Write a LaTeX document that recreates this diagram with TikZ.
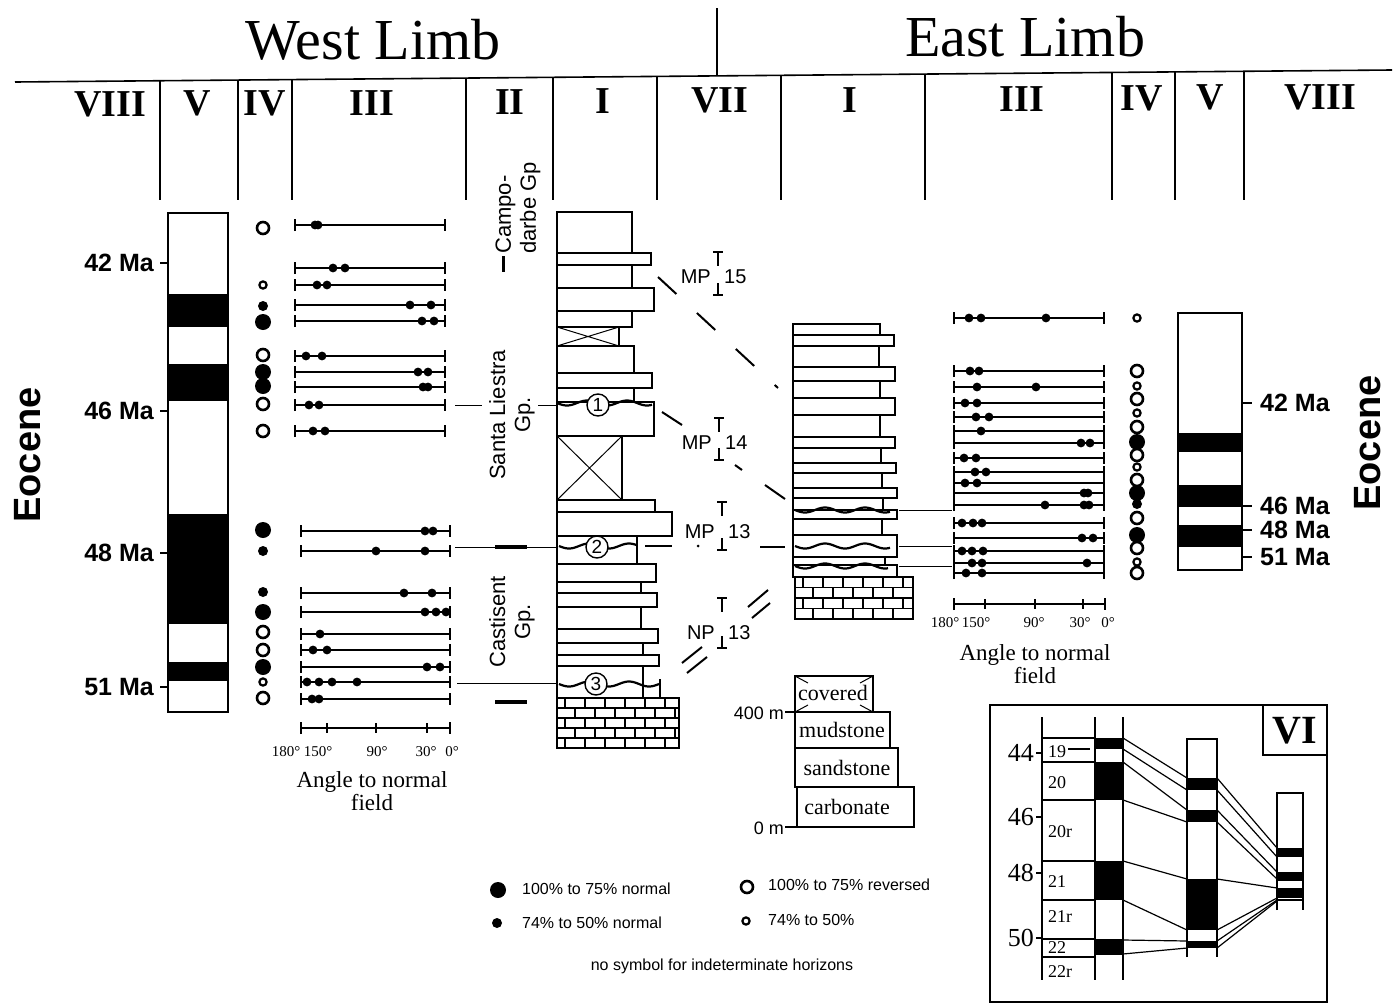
\documentclass[tikz,border=0pt]{standalone}
\usepackage{fontspec}
\setmainfont{Liberation Serif}
\setsansfont{Liberation Sans}
\usetikzlibrary{arrows.meta,positioning}

\tikzset{
  lith/.style={draw,line width=1.6pt,fill=white},
  frame/.style={line width=1.6pt},
  arow/.style={line width=1.6pt,{Bar[width=12pt,line width=1.6pt]}-{Bar[width=12pt,line width=1.6pt]}},
  colhead/.style={font=\bfseries\fontsize{38}{40}\selectfont,inner sep=0pt},
  limb/.style={font=\fontsize{58}{60}\selectfont,inner sep=0pt},
  agelab/.style={font=\sffamily\bfseries\fontsize{25}{28}\selectfont,inner sep=0pt},
  epoch/.style={font=\sffamily\bfseries\fontsize{38}{40}\selectfont,rotate=90,inner sep=0pt},
  grp/.style={font=\sffamily\fontsize{22}{25}\selectfont,rotate=90,inner sep=0pt},
  zone/.style={font=\sffamily\fontsize{20}{22}\selectfont,inner sep=0pt},
  deg/.style={font=\fontsize{15}{16}\selectfont,inner sep=0pt},
  axlab/.style={font=\fontsize{23}{23}\selectfont,align=center,inner sep=0pt},
  keytxt/.style={font=\sffamily\fontsize{16}{18}\selectfont,anchor=west,inner sep=0pt},
  rocklab/.style={font=\fontsize{22}{24}\selectfont,inner sep=1pt},
  hzn/.style={circle,draw,line width=1.4pt,fill=white,inner sep=0pt,minimum size=22pt,font=\sffamily\fontsize{19}{19}\selectfont},
  chron/.style={font=\fontsize{18}{18}\selectfont,anchor=west,inner sep=0pt},
  gpts/.style={font=\fontsize{26}{26}\selectfont,anchor=east,inner sep=0pt}
}

% polarity symbol: 0 big normal, 1 small normal, 2 big reversed, 3 small reversed
\newcommand{\polsym}[3]{%
  \ifcase#3\relax
    \fill (#1,#2) circle (8pt);
  \or \fill (#1,#2) circle (5pt);
  \or \draw[line width=2.6pt] (#1,#2) circle (6pt);
  \or \draw[line width=2.2pt] (#1,#2) circle (3.6pt);
  \fi}

% carbonate block
\newcommand{\brickwall}[5]{%
  \draw[lith] (#1,#2) rectangle (#3,#4);
  \begin{scope}
    \clip (#1,#2) rectangle (#3,#4);
    \pgfmathsetmacro{\bh}{(#4-#2)/#5}
    \foreach \r in {1,...,#5} {
      \draw[line width=1.2pt] (#1,{#2+\r*\bh}) -- (#3,{#2+\r*\bh});
    }
    \foreach \r in {0,...,#5} {
      \foreach \c in {0,...,6} {
        \draw[line width=1.2pt] ({#1+8+\c*20+mod(\r,2)*10},{#2+\r*\bh}) -- ++(0,\bh);
      }
    }
  \end{scope}
  \draw[frame] (#1,#2) rectangle (#3,#4);}

\begin{document}
\begin{tikzpicture}[x=1pt,y=-1pt]
\useasboundingbox (0,0) rectangle (1395,1004);

% headings
\node[limb] (wl) at (373,40) {West Limb};
\node[limb] (el) at (1025,37) {East Limb};
\draw[frame] (717,8) -- (717,76);
\draw[frame] (15,82) -- (1392,70);
\foreach \x/\lab [count=\i] in {110/VIII,197/V,265/IV,372/III,510/II,603/I,720/VII,850/I,1022/III,1142/IV,1210/V,1320/VIII}
  \node[colhead] (h\i) at (\x,{105-\x*0.006}) {\lab};
\foreach \x in {160,238,292,466,553,657,781,925,1112,1175,1244}
  \draw[line width=1.3pt] (\x,{82.1-\x*0.0087}) -- (\x,200);

\node[epoch] (eo1) at (28,455) {Eocene};
\node[epoch] (eo2) at (1368,443) {Eocene};

% west limb: V
\foreach \a/\b in {294/327,364/401,514/624,662/681}
  \fill (168,\a) rectangle (228,\b);
\draw[frame] (168,213) rectangle (228,712);
\foreach \y/\lab [count=\i] in {263/42,411/46,553/48,687/51} {
  \draw[frame] (160,\y) -- (168,\y);
  \node[agelab,anchor=east] (wa\i) at (154,\y) {\lab\ Ma};
}

% west limb: IV
\foreach \y/\t in {228/2,285/3,306/1,322/0,355/2,372/0,386/0,404/2,431/2,530/0,551/1,592/1,612/0,632/2,650/2,667/0,682/3,698/2}
  {\polsym{263}{\y}{\t}}

% west limb: III
\foreach \y/\ds in {225/{315,318},268/{333,345},285/{317,327},305/{410,431},321/{422,434},356/{306,322},372/{418,428},387/{423,428},405/{309,319},431/{313,325}} {
  \draw[arow] (294,\y) -- (446,\y);
  \foreach \d in \ds {\fill (\d,\y) circle (4.4pt);}
}
\foreach \y/\ds in {531/{425,433},551/{376,425},593/{404,432},612/{425,436,446},634/{320},650/{313,327},667/{427,440},682/{307,319,332,357},699/{312,319}} {
  \draw[arow] (300,\y) -- (451,\y);
  \foreach \d in \ds {\fill (\d,\y) circle (4.4pt);}
}
\draw[arow] (300,728) -- (451,728);
\foreach \x in {327,376,427} \draw[line width=1.4pt] (\x,723) -- (\x,733);
\foreach \x/\a [count=\i] in {286/180,318/150,377/90,426/30,452/0}
  \node[deg] (wd\i) at (\x,752) {\a°};
\node[axlab] (wax) at (372,791) {Angle to normal\\field};

% west limb: II
\draw[line width=3pt] (503,256) -- (503,272);
\node[grp,anchor=west,align=left] (cdg) at (518,254) {Campo-\\darbe Gp};
\node[grp,align=center] (slg) at (512,415) {Santa Liestra\\Gp.};
\node[grp,align=center] (csg) at (512,622) {Castisent\\Gp.};
\draw[line width=1pt] (455,405) -- (482,405) (538,405) -- (557,405);
\draw[line width=1pt] (455,547) -- (557,547) (457,683) -- (557,683);
\draw[line width=3.5pt] (495,547) -- (527,547) (495,702) -- (527,702);

% west limb: I
\foreach \t/\b/\r in {212/253/632,253/265/651,265/288/632,288/311/654,311/327/632,327/346/619,346/373/634,373/388/652,388/402/634,402/436/654,436/500/622,500/512/655,512/536/672,536/564/637,564/582/656,582/593/641,593/607/657,607/629/641,629/643/658,643/655/643,655/666/659,666/698/643}
  {\draw[lith] (557,\t) rectangle (\r,\b);}
\draw[line width=1pt] (557,327) -- (619,346) (557,346) -- (619,327);
\draw[line width=1pt] (557,436) -- (622,500) (557,500) -- (622,436);
\draw[frame] (660,679) -- (660,698);
\brickwall{557}{698}{679}{748}{5}
\draw[line width=2.2pt] plot[domain=557:652,samples=60] (\x,{403+2.5*sin((\x-557)*9)});
\draw[line width=2.2pt] plot[domain=559:637,samples=60] (\x,{546+2.5*sin((\x-559)*9)});
\draw[line width=2.2pt] plot[domain=559:659,samples=60] (\x,{684+2.5*sin((\x-559)*9)});
\node[hzn] (hz1) at (598,405) {1};
\node[hzn] (hz2) at (597,547) {2};
\node[hzn] (hz3) at (596,684) {3};

% VII: mammal and nannofossil zones
\foreach \nm/\num/\x/\yt/\yb/\yl [count=\i] in {MP/15/718/252/295/277,MP/14/719/418/460/443,MP/13/722/502/550/532,NP/13/722/598/648/633} {
  \draw[line width=1.4pt] (\x-5,\yt) -- (\x+5,\yt) (\x,\yt) -- (\x,\yt+14);
  \draw[line width=1.4pt] (\x,\yb-12) -- (\x,\yb) (\x-5,\yb) -- (\x+5,\yb);
  \node[zone,anchor=east] (zn\i) at (\x-7,\yl) {\nm};
  \node[zone,anchor=west] (zd\i) at (\x+6,\yl) {\num};
}
\draw[line width=2pt,dash pattern=on 25pt off 28pt] (658,277) -- (778,388);
\draw[line width=2pt] (662,412) -- (682,425) (735,465) -- (742,470) (765,485) -- (785,499);
\draw[line width=2pt] (645,546) -- (672,546) (760,547) -- (785,547);
\fill (698,546) circle (1.5pt);
\draw[line width=2pt] (748,607) -- (768,590) (752,618) -- (770,603) (682,663) -- (702,647) (687,673) -- (707,657);

% east limb: I
\foreach \t/\b/\r in {324/335/880,335/346/894,346/367/879,367/381/895,381/398/880,398/415/895,415/437/880,437/448/895,448/463/881,463/473/896,473/488/882,488/498/897,498/510/883,510/519/897,519/535/882,535/557/897,557/565/885,565/577/897}
  {\draw[lith] (793,\t) rectangle (\r,\b);}
\brickwall{795}{577}{913}{619}{4}
\draw[line width=2.2pt] plot[domain=795:890,samples=60] (\x,{510+2.5*sin((\x-795)*9)});
\draw[line width=2.2pt] plot[domain=795:890,samples=60] (\x,{546+2.5*sin((\x-795)*9)});
\draw[line width=2.2pt] plot[domain=795:888,samples=60] (\x,{566+2.5*sin((\x-795)*9)});
\draw[line width=1pt] (899,510) -- (952,510) (899,546) -- (952,546) (899,566) -- (952,566);

% east limb: III
\foreach \y/\ds in {318/{969,981,1046},371/{970,979},387/{977,1036},403/{965,977},417/{976,989},431/{981},443/{1081,1090},458/{964,976},472/{975,986},483/{965,977},493/{1084,1088},505/{1045,1084,1089},523/{962,973,982},538/{1082,1093},551/{962,972,983},563/{972,982,1087},573/{966,982}} {
  \draw[arow] (953,\y) -- (1105,\y);
  \foreach \d in \ds {\fill (\d,\y) circle (4.4pt);}
}
\draw[arow] (953,604) -- (1106,604);
\foreach \x in {985,1035,1083} \draw[line width=1.4pt] (\x,599) -- (\x,609);
\foreach \x/\a [count=\i] in {945/180,976/150,1034/90,1080/30,1108/0}
  \node[deg] (ed\i) at (\x,623) {\a°};
\node[axlab] (eax) at (1035,664) {Angle to normal\\field};

% east limb: IV
\foreach \y/\t in {318/3,371/2,386/3,399/2,413/3,427/2,442/0,455/2,467/3,480/2,493/0,504/1,518/2,535/0,548/2,562/3,573/2}
  {\polsym{1137}{\y}{\t}}

% east limb: V
\foreach \a/\b in {433/452,485/507,525/547}
  \fill (1178,\a) rectangle (1242,\b);
\draw[frame] (1178,313) rectangle (1242,570);
\foreach \y/\lab [count=\i] in {403/42,506/46,530/48,557/51} {
  \draw[frame] (1242,\y) -- (1252,\y);
  \node[agelab,anchor=west] (ea\i) at (1260,\y) {\lab\ Ma};
}

% lithology key
\draw[lith] (795,676) rectangle (873,712);
\draw[line width=1pt] (795,676) -- ++(13,7) (873,676) -- ++(-13,7) (795,712) -- ++(13,-7) (873,712) -- ++(-13,-7);
\draw[lith] (795,712) rectangle (890,748);
\draw[lith] (795,748) rectangle (898,787);
\draw[lith] (797,787) rectangle (914,827);
\node[rocklab] (rk1) at (833,693) {covered};
\node[rocklab] (rk2) at (842,730) {mudstone};
\node[rocklab] (rk3) at (847,768) {sandstone};
\node[rocklab] (rk4) at (847,807) {carbonate};
\draw[line width=1.2pt] (785,712) -- (795,712) (785,827) -- (797,827);
\node[font=\sffamily\fontsize{18}{18}\selectfont,anchor=east,inner sep=0pt] (m400) at (784,713) {400 m};
\node[font=\sffamily\fontsize{18}{18}\selectfont,anchor=east,inner sep=0pt] (m0) at (784,828) {0 m};

% polarity key
\polsym{498}{890}{0}
\node[keytxt] (k1) at (522,889) {100\% to 75\% normal};
\polsym{497}{923}{1}
\node[keytxt] (k2) at (522,923) {74\% to 50\% normal};
\polsym{747}{887}{2}
\node[keytxt] (k3) at (768,885) {100\% to 75\% reversed};
\polsym{746}{921}{3}
\node[keytxt] (k4) at (768,920) {74\% to 50\%};
\node[font=\sffamily\fontsize{16}{18}\selectfont,inner sep=0pt] (k5) at (722,966) {no symbol for indeterminate horizons};

% VI: inset correlation
\draw[frame] (990,1002) -- (990,705) -- (1327,705) -- (1327,1002) -- cycle;
\draw[frame] (1263,705) rectangle (1327,755);
\node[font=\bfseries\fontsize{40}{40}\selectfont,inner sep=0pt] (six) at (1295,731) {VI};
\draw[line width=1.2pt] (1042,717) -- (1042,980);
\foreach \y/\lab [count=\i] in {753/44,817/46,873/48,938/50} {
  \draw[line width=1.2pt] (1036,\y) -- (1042,\y);
  \node[gpts] (ga\i) at (1034,\y) {\lab};
}
\foreach \y in {738,762,800,861,900,939,957}
  {\draw[line width=1.2pt] (1042,\y) -- (1095,\y);}
\draw[line width=1.2pt] (1068,749) -- (1090,749);
\foreach \y/\lab [count=\i] in {752/19,783/20,832/20r,882/21,917/21r,948/22,972/22r}
  \node[chron] (ch\i) at (1048,\y) {\lab};
% polarity columns
\foreach \a/\b in {738/749,762/800,861/900,939/955} {\fill (1095,\a) rectangle (1123,\b);}
\draw[line width=1.2pt] (1095,717) -- (1095,980) (1123,717) -- (1123,980);
\foreach \a/\b in {778/790,810/822,879/930,941/948} {\fill (1187,\a) rectangle (1217,\b);}
\draw[line width=1.2pt] (1187,957) -- (1187,739) -- (1217,739) -- (1217,957);
\foreach \a/\b in {848/857,872/881,888/898} {\fill (1277,\a) rectangle (1303,\b);}
\draw[line width=1.2pt] (1277,910) -- (1277,793) -- (1303,793) -- (1303,910) (1277,900) -- (1303,900);
% tie lines
\foreach \ya/\yb/\yc in {738/778/848,749/790/857,762/810/872,800/822/879,861/879/888,900/930/898,940/941/900,954/948/901}
  {\draw[line width=1.2pt] (1123,\ya) -- (1187,\yb) (1217,\yb) -- (1277,\yc);}

\end{tikzpicture}
\end{document}
